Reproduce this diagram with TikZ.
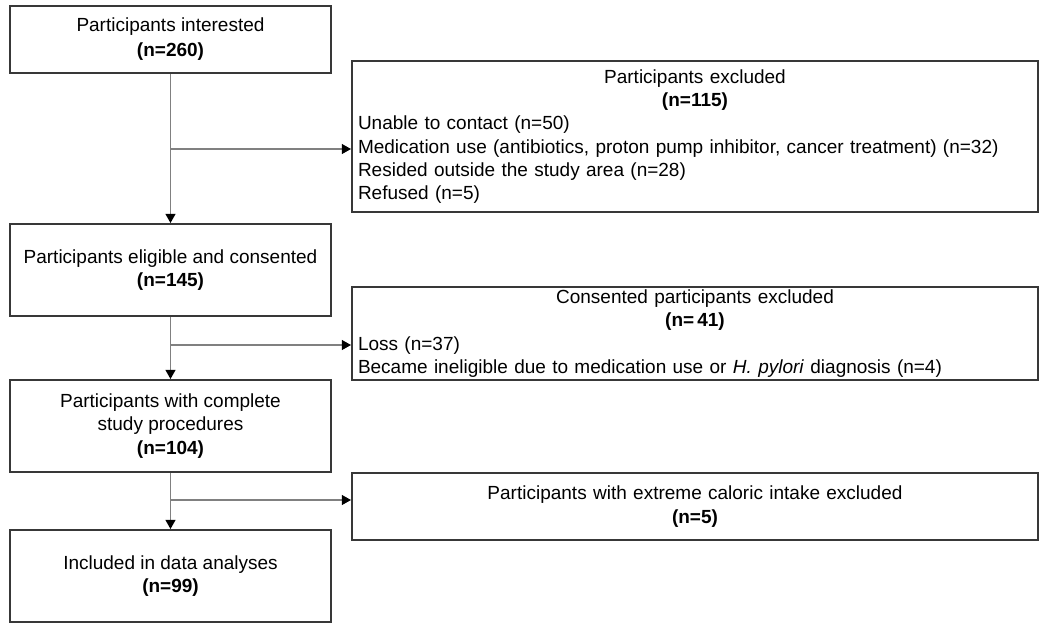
\documentclass[tikz,border=0pt]{standalone}
\usepackage{fontspec}
\setmainfont{Liberation Sans}
\usetikzlibrary{positioning,arrows.meta}
\tikzset{
	stage/.style={draw=black!78,line width=1pt,minimum width=160.5pt,align=center,inner sep=0pt},
	excl/.style={draw=black!78,line width=1pt,minimum width=343pt,text width=337pt,inner xsep=3pt,inner ysep=0pt},
	flow/.style={draw=black!50,line width=0.6pt,-{Triangle[length=4.6pt,width=5pt,color=black]}},
}
\begin{document}
\begin{tikzpicture}[x=0.5pt,y=-0.5pt,font=\fontsize{9.5}{11.6}\selectfont]
		\useasboundingbox (0,0) rectangle (1050,634);
		% main column
		\node(int) [stage,minimum height=33.5pt,font=\fontsize{9.5}{12.5}\selectfont] at (170.5,39.5) {Participants interested\\\textbf{(n=260)}};
		\node(elig) [stage,minimum height=46pt] at (170.5,270) {Participants eligible and consented\\\textbf{(n=145)}};
		\node(compl) [stage,minimum height=46pt] at (170.5,426) {Participants with complete\\study procedures\\\textbf{(n=104)}};
		\node(incl) [stage,minimum height=46pt] at (170.5,576) {Included in data analyses\\\textbf{(n=99)}};
		% exclusion boxes
		\node(ex1) [excl,minimum height=75.5pt] at (695,136.5) {\centering Participants excluded\\\textbf{(n=115)}\par\raggedright
			Unable to contact (n=50)\\
			Medication use (antibiotics, proton pump inhibitor, cancer treatment) (n=32)\\
			Resided outside the study area (n=28)\\
			Refused (n=5)\par};
		\node(ex2) [excl,minimum height=46.5pt] at (695,333.5) {\centering Consented participants excluded\\\textbf{(n=\,41)}\par\raggedright
			Loss (n=37)\\
			Became ineligible due to medication use or \textit{H. pylori} diagnosis (n=4)\par};
		\node(ex3) [excl,minimum height=33.5pt] at (695,506.5) {\centering Participants with extreme caloric intake excluded\\\textbf{(n=5)}\par};
		% connectors
		\coordinate (b1) at (170.5,149);
		\coordinate (b2) at (170.5,345);
		\coordinate (b3) at (170.5,500);
		\draw[flow] (int) -- (elig);
		\draw[flow] (elig) -- (compl);
		\draw[flow] (compl) -- (incl);
		\draw[flow] (b1) -- (b1 -| ex1.west);
		\draw[flow] (b2) -- (b2 -| ex2.west);
		\draw[flow] (b3) -- (b3 -| ex3.west);
\end{tikzpicture}
\end{document}
